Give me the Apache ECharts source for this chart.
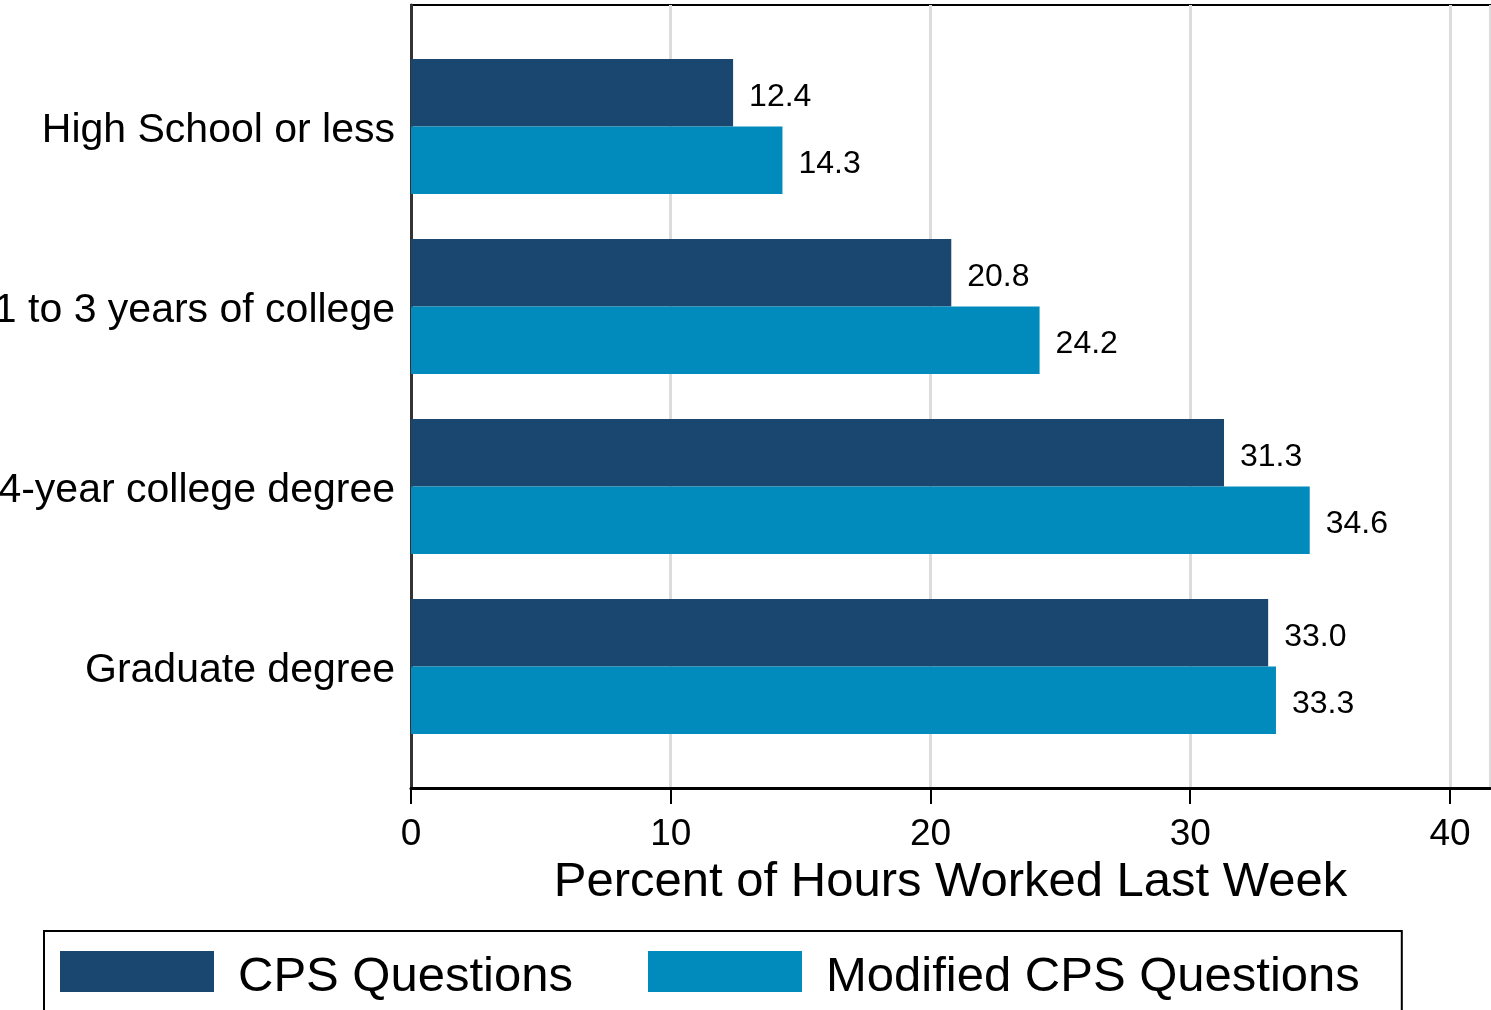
<!DOCTYPE html>
<html>
<head>
<meta charset="utf-8">
<script src="https://cdn.jsdelivr.net/npm/echarts@6/dist/echarts.min.js"></script>
<style>
  html, body { margin: 0; padding: 0; background: #fff; }
  #chartBox { width: 1491px; height: 1010px; }
</style>
</head>
<body>
<div id="chartBox"></div>
<script>
// education groups (top to bottom)
const categories = ['High School or less', '1 to 3 years of college', '4-year college degree', 'Graduate degree']
const cpsValues = [12.4, 20.8, 31.3, 33.0]
const modifiedValues = [14.3, 24.2, 34.6, 33.3]
const seriesNames = ['CPS Questions', 'Modified CPS Questions']
const xTicks = [0, 10, 20, 30, 40]

const font = 'Liberation Sans, Arial, Helvetica, sans-serif'
const xMax = 41.54

let myChart = echarts.init(document.getElementById('chartBox'))

// top-aligned with a small line height, nudges the text a few px down
const valueLabel = {
  show: true,
  position: 'right',
  distance: 16,
  color: '#000',
  fontFamily: font,
  fontSize: 32,
  verticalAlign: 'top',
  lineHeight: 8,
  formatter: p => p.value.toFixed(1)
}

myChart.setOption({
  animation: false,
  backgroundColor: '#fff',
  grid: [
    // frame + x axis
    { left: 411, right: 1, top: 5, bottom: 222, show: true, borderColor: '#000', borderWidth: 2, backgroundColor: 'transparent', containLabel: false, outerBoundsMode: 'none' },
    // bars
    { left: 411, right: 1, top: 36.5, bottom: 253.5, containLabel: false, outerBoundsMode: 'none' }
  ],
  xAxis: [
    {
      gridIndex: 0,
      type: 'value',
      min: 0,
      max: xMax,
      interval: 10,
      axisLine: { show: true, lineStyle: { color: '#000', width: 3 } },
      axisTick: { show: true, length: 16, lineStyle: { color: '#000', width: 2 } },
      axisLabel: {
        margin: 28,
        color: '#000',
        fontFamily: font,
        fontSize: 37,
        showMaxLabel: false,
        formatter: v => (xTicks.indexOf(v) >= 0 ? String(v) : '')
      },
      splitLine: { show: true, lineStyle: { color: '#dcdcdc', width: 3 } },
      name: 'Percent of Hours Worked Last Week',
      nameLocation: 'middle',
      nameGap: 70,
      nameTextStyle: { color: '#000', fontFamily: font, fontSize: 49 }
    },
    {
      gridIndex: 1,
      type: 'value',
      min: 0,
      max: xMax,
      show: false
    }
  ],
  yAxis: [
    {
      gridIndex: 0,
      type: 'value',
      min: 0,
      max: 1,
      axisLine: { show: true, lineStyle: { color: '#333', width: 3 } },
      axisTick: { show: false },
      axisLabel: { show: false },
      splitLine: { show: false }
    },
    {
      gridIndex: 1,
      type: 'category',
      inverse: true,
      data: categories,
      axisLine: { show: false },
      axisTick: { show: false },
      axisLabel: {
        margin: 16,
        color: '#000',
        fontFamily: font,
        fontSize: 41,
        verticalAlign: 'top',
        lineHeight: 9
      }
    }
  ],
  legend: {
    left: 44,
    top: 931,
    itemWidth: 154,
    itemHeight: 41,
    itemGap: 75,
    padding: [20, 42, 40, 16],
    borderColor: '#000',
    borderWidth: 2,
    icon: 'rect',
    formatter: name => '{t|' + name + '}',
    textStyle: {
      color: '#000',
      fontFamily: font,
      fontSize: 49,
      rich: {
        t: { color: '#000', fontFamily: font, fontSize: 49, padding: [12, 0, 0, 19] }
      }
    },
    data: seriesNames
  },
  series: [
    {
      name: seriesNames[0],
      type: 'bar',
      xAxisIndex: 1,
      yAxisIndex: 1,
      barGap: 0,
      barCategoryGap: '25%',
      itemStyle: { color: '#1a476f' },
      label: valueLabel,
      data: cpsValues
    },
    {
      name: seriesNames[1],
      type: 'bar',
      xAxisIndex: 1,
      yAxisIndex: 1,
      barGap: 0,
      barCategoryGap: '25%',
      itemStyle: { color: '#008bbc' },
      label: valueLabel,
      data: modifiedValues
    }
  ]
})
</script>
</body>
</html>
